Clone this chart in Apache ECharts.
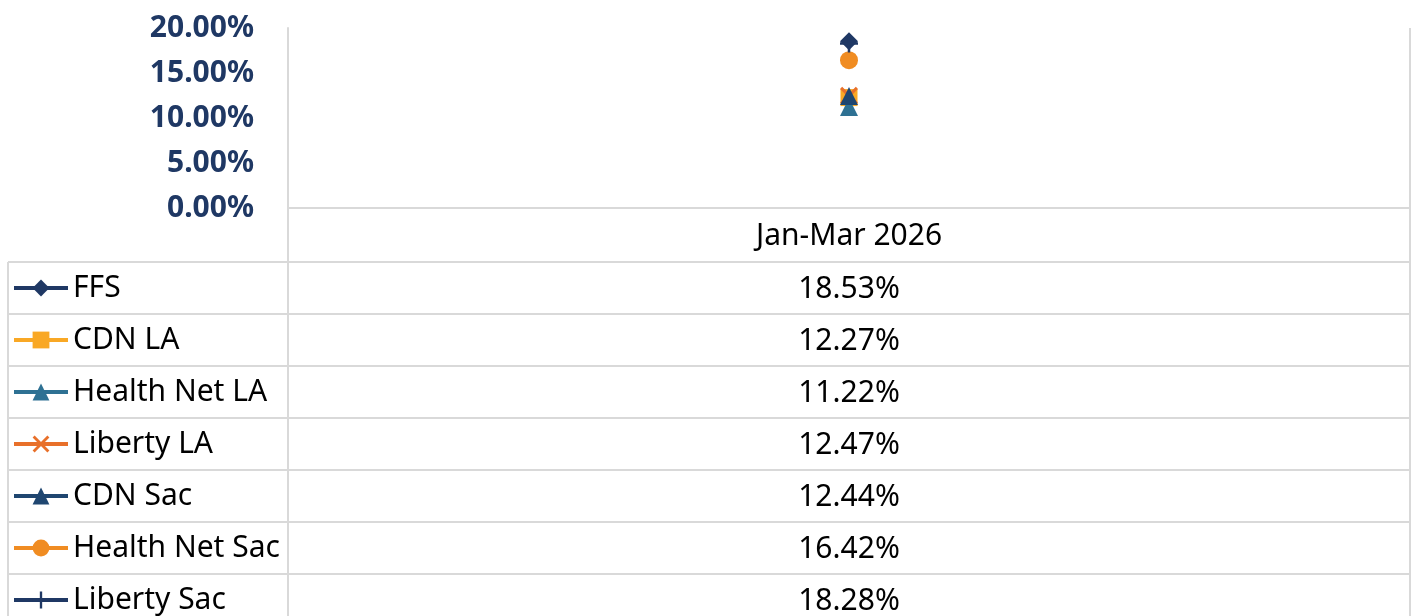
<!DOCTYPE html>
<html>
<head>
<meta charset="utf-8">
<script src="https://cdn.jsdelivr.net/npm/echarts@6/dist/echarts.min.js"></script>
<style>
  html, body { margin: 0; padding: 0; background: #fff; }
  #chart { width: 1419px; height: 616px; }
</style>
</head>
<body>
<div id="chart"></div>
<script>
// data
var categories = ['Jan-Mar 2026'];
var seriesNames = ['FFS', 'CDN LA', 'Health Net LA', 'Liberty LA', 'CDN Sac', 'Health Net Sac', 'Liberty Sac'];
var seriesValues = [
  [18.53],
  [12.27],
  [11.22],
  [12.47],
  [12.44],
  [16.42],
  [18.28]
];
var yTicks = [0, 5, 10, 15, 20];

var colors = ['#1f3864', '#f9a825', '#2e7193', '#e8702a', '#1f4670', '#f08c22', '#1f3864'];
var symbols = [
  'diamond',
  'rect',
  'triangle',
  'path://M0,1.2L1.2,0L10,8.8L8.8,10Z M8.8,0L10,1.2L1.2,10L0,8.8Z',
  'triangle',
  'circle',
  'path://M4.3,0H5.7V10H4.3Z M0,4.3H10V5.7H0Z'
];
var symbolSizes = [18, 17, 18, 18, 18, 18, 18];

var gridLeft = 288, gridRight = 1410, gridTop = 28, axisY = 208;
var tableTop = 262, rowH = 52, tableLeft = 8, chartH = 616;
var borderColor = '#d9d9d9';
var font = '"Noto Sans", "Open Sans", sans-serif';
var fontSize = 30;

var chart = echarts.init(document.getElementById('chart'));

var series = seriesNames.map(function (name, i) {
  return {
    name: name,
    type: 'line',
    data: seriesValues[i],
    symbol: symbols[i],
    symbolSize: symbolSizes[i],
    showAllSymbol: true,
    itemStyle: { color: colors[i] },
    lineStyle: { color: colors[i], width: 4 },
    animation: false
  };
});

// table: borders and values
var graphics = [];
function line(x1, y1, x2, y2) {
  graphics.push({
    type: 'line', silent: true,
    shape: { x1: x1, y1: y1, x2: x2, y2: y2 },
    style: { stroke: borderColor, lineWidth: 2 }
  });
}
for (var r = 0; r <= seriesNames.length; r++) {
  line(tableLeft, tableTop + r * rowH, gridRight, tableTop + r * rowH);
}
line(tableLeft, tableTop, tableLeft, chartH);
line(gridLeft, axisY, gridLeft, chartH);
line(gridRight, gridTop, gridRight, chartH);

seriesNames.forEach(function (name, i) {
  graphics.push({
    type: 'text', silent: true,
    x: (gridLeft + gridRight) / 2,
    y: tableTop + i * rowH + rowH / 2 + 1,
    style: {
      text: seriesValues[i][0].toFixed(2) + '%',
      font: fontSize + 'px ' + font,
      fill: '#000',
      align: 'center',
      verticalAlign: 'middle'
    }
  });
});

chart.setOption({
  animation: false,
  grid: {
    left: gridLeft,
    top: gridTop,
    width: gridRight - gridLeft,
    height: axisY - gridTop,
    containLabel: false
  },
  legend: {
    data: seriesNames,
    orient: 'vertical',
    left: 12,
    top: tableTop,
    height: 500,
    padding: 0,
    itemGap: 0,
    itemWidth: 54,
    itemHeight: 21,
    selectedMode: false,
    lineStyle: { width: 4 },
    textStyle: {
      fontFamily: font,
      fontSize: fontSize,
      lineHeight: rowH,
      color: '#000'
    }
  },
  xAxis: {
    type: 'category',
    data: categories,
    boundaryGap: true,
    axisLine: { lineStyle: { color: borderColor, width: 2 } },
    axisTick: { show: false },
    axisLabel: {
      fontFamily: font,
      fontSize: fontSize,
      color: '#000',
      margin: 13
    }
  },
  yAxis: {
    type: 'value',
    min: yTicks[0],
    max: yTicks[yTicks.length - 1],
    interval: yTicks[1] - yTicks[0],
    axisLine: { show: true, lineStyle: { color: borderColor, width: 2 } },
    axisTick: { show: false },
    splitLine: { show: false },
    axisLabel: {
      fontFamily: font,
      fontSize: fontSize,
      fontWeight: 'bold',
      color: '#1f3864',
      margin: 34,
      formatter: function (v) { return v.toFixed(2) + '%'; }
    }
  },
  graphic: graphics,
  series: series
});
</script>
</body>
</html>
